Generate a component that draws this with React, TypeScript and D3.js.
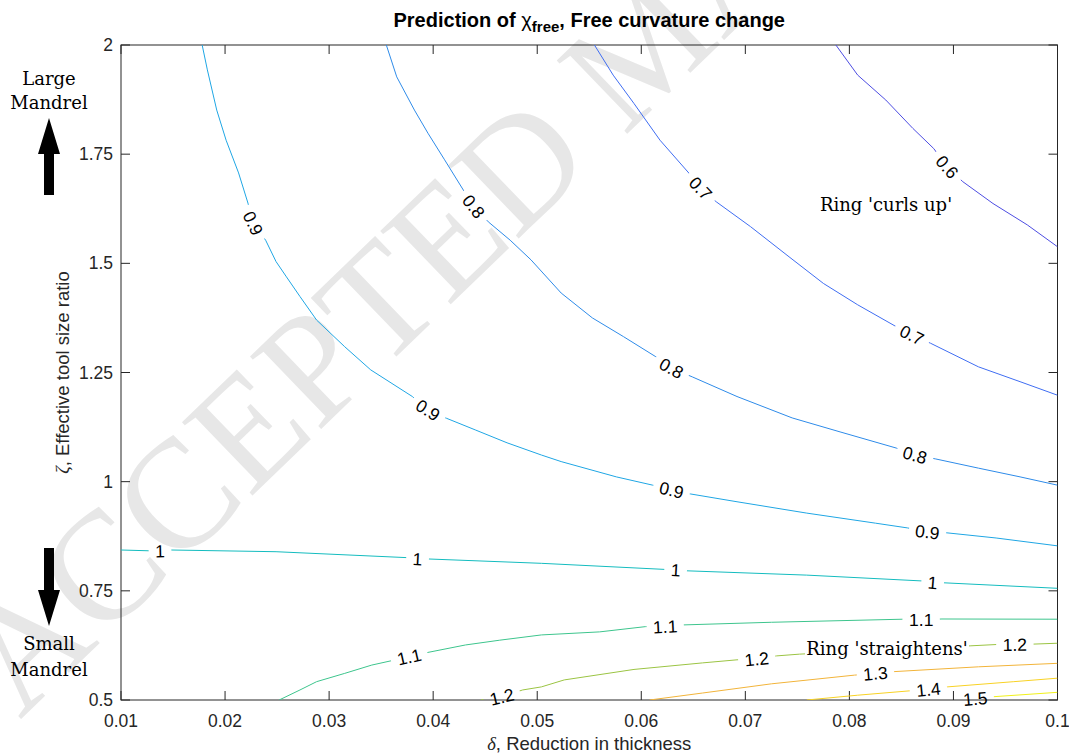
import React from 'react';
import * as d3 from 'd3';

type Pt = [number, number];

// Axis ticks
const xTicks = [0.01, 0.02, 0.03, 0.04, 0.05, 0.06, 0.07, 0.08, 0.09, 0.1];
const xTickLabels = ['0.01', '0.02', '0.03', '0.04', '0.05', '0.06', '0.07', '0.08', '0.09', '0.1'];
const yTicks = [0.5, 0.75, 1, 1.25, 1.5, 1.75, 2];
const yTickLabels = ['0.5', '0.75', '1', '1.25', '1.5', '1.75', '2'];

// Contour levels of chi_free and their line colours
const levels = [0.6, 0.7, 0.8, 0.9, 1.0, 1.1, 1.2, 1.3, 1.4, 1.5];
const levelColors = ['#4d4de2', '#3f6df2', '#2e8be9', '#1fa6e4', '#14bcbf', '#3dc58d', '#9bc443', '#f2b43a', '#f8d224', '#f1f11a'];

// Contour polylines, points as [delta, zeta]
const line06: Pt[] = [[0.0787, 2], [0.0808, 1.931], [0.0835, 1.874], [0.0861, 1.809], [0.0881, 1.763], [0.0894, 1.721], [0.0909, 1.687], [0.0938, 1.637], [0.0971, 1.588], [0.1, 1.538]];
const line07: Pt[] = [[0.0555, 2], [0.0573, 1.931], [0.0593, 1.866], [0.0618, 1.782], [0.0646, 1.706], [0.0657, 1.672], [0.0672, 1.641], [0.0705, 1.584], [0.0742, 1.515], [0.0775, 1.454], [0.0808, 1.405], [0.0845, 1.355], [0.086, 1.336], [0.0878, 1.317], [0.0924, 1.263], [0.0964, 1.229], [0.1, 1.198]];
const line08: Pt[] = [[0.0355, 2], [0.0365, 1.927], [0.0382, 1.851], [0.0395, 1.798], [0.0411, 1.737], [0.043, 1.664], [0.0439, 1.63], [0.0453, 1.595], [0.0474, 1.553], [0.0494, 1.508], [0.0523, 1.432], [0.0553, 1.375], [0.0583, 1.332], [0.0614, 1.286], [0.0629, 1.26], [0.0649, 1.24], [0.0692, 1.195], [0.0745, 1.146], [0.0791, 1.114], [0.0845, 1.077], [0.0863, 1.061], [0.0883, 1.052], [0.0924, 1.031], [0.0964, 1.011], [0.1, 0.992]];
const line09: Pt[] = [[0.0178, 2], [0.0183, 1.943], [0.0192, 1.851], [0.0201, 1.782], [0.0213, 1.707], [0.0222, 1.638], [0.0227, 1.592], [0.0239, 1.553], [0.0249, 1.504], [0.0259, 1.469], [0.0272, 1.424], [0.0288, 1.37], [0.0315, 1.309], [0.034, 1.256], [0.038, 1.195], [0.0395, 1.164], [0.0413, 1.145], [0.0441, 1.118], [0.0471, 1.089], [0.0504, 1.061], [0.0523, 1.046], [0.0576, 1.011], [0.0611, 0.992], [0.0629, 0.981], [0.0647, 0.972], [0.0692, 0.954], [0.0759, 0.928], [0.0825, 0.905], [0.0856, 0.894], [0.0875, 0.885], [0.0893, 0.883], [0.0941, 0.871], [0.1, 0.853]];
const line10: Pt[] = [[0.01, 0.8435], [0.01375, 0.841], [0.0148, 0.8435], [0.0249, 0.8396], [0.0375, 0.826], [0.0385, 0.823], [0.0395, 0.823], [0.0504, 0.813], [0.0623, 0.799], [0.0633, 0.798], [0.0642, 0.796], [0.0759, 0.786], [0.0871, 0.7725], [0.088, 0.769], [0.0889, 0.7686], [0.1, 0.7558]];
const line11: Pt[] = [[0.0252, 0.5], [0.0272, 0.523], [0.0288, 0.542], [0.0315, 0.561], [0.0341, 0.58], [0.036, 0.59], [0.0377, 0.599], [0.0395, 0.609], [0.0431, 0.626], [0.0464, 0.637], [0.0504, 0.649], [0.056, 0.656], [0.0604, 0.668], [0.0623, 0.668], [0.0641, 0.672], [0.0725, 0.678], [0.0851, 0.685], [0.0869, 0.684], [0.0889, 0.6855], [0.1, 0.685]];
const line12: Pt[] = [[0.0446, 0.5], [0.0466, 0.5076], [0.0486, 0.523], [0.0504, 0.53], [0.0526, 0.546], [0.0593, 0.57], [0.0659, 0.585], [0.0692, 0.592], [0.0711, 0.594], [0.073, 0.601], [0.0752, 0.605], [0.0916, 0.624], [0.0941, 0.627], [0.0959, 0.627], [0.0977, 0.628], [0.1, 0.63]];
const line13: Pt[] = [[0.0608, 0.5], [0.0659, 0.516], [0.0725, 0.537], [0.0805, 0.557], [0.0825, 0.561], [0.0843, 0.565], [0.0924, 0.576], [0.1, 0.584]];
const line14: Pt[] = [[0.0759, 0.5], [0.0808, 0.511], [0.0858, 0.521], [0.0876, 0.524], [0.0894, 0.53], [0.0958, 0.542], [0.1, 0.55]];
const line15: Pt[] = [[0.0904, 0.5], [0.0921, 0.503], [0.0939, 0.5076], [0.1, 0.5176]];

// Where each contour carries its inline value label
const labels06: Pt[] = [[0.0894, 1.721]];
const labels07: Pt[] = [[0.0657, 1.672], [0.086, 1.336]];
const labels08: Pt[] = [[0.0439, 1.63], [0.0629, 1.26], [0.0863, 1.061]];
const labels09: Pt[] = [[0.0227, 1.592], [0.0395, 1.164], [0.0629, 0.981], [0.0875, 0.885]];
const labels10: Pt[] = [[0.01375, 0.841], [0.0385, 0.823], [0.0633, 0.798], [0.088, 0.769]];
const labels11: Pt[] = [[0.0377, 0.599], [0.0623, 0.668], [0.0869, 0.684]];
const labels12: Pt[] = [[0.0466, 0.5076], [0.0711, 0.594], [0.0959, 0.627]];
const labels13: Pt[] = [[0.0825, 0.561]];
const labels14: Pt[] = [[0.0876, 0.524]];
const labels15: Pt[] = [[0.0921, 0.503]];

const contourLines = [line06, line07, line08, line09, line10, line11, line12, line13, line14, line15];
const contourLabels = [labels06, labels07, labels08, labels09, labels10, labels11, labels12, labels13, labels14, labels15];

const W = 1069;
const H = 756;
const plot = { left: 121, right: 1057.5, top: 45, bottom: 700 };

const x = d3.scaleLinear().domain([0.01, 0.1]).range([plot.left, plot.right]);
const y = d3.scaleLinear().domain([0.5, 2]).range([plot.bottom, plot.top]);

const lineGen = d3.line<Pt>().x((d) => x(d[0])).y((d) => y(d[1]));

const sans = "Arial, 'Liberation Sans', Helvetica, sans-serif";
const serif = "'DejaVu Serif', Cambria, serif";
const labelFont = 17.5;
const tickFont = 17.5;
const axisColor = '#262626';

function textWidth(s: string, fs: number) {
  let w = 0;
  for (const c of s) w += c === '.' ? 0.278 : 0.556;
  return w * fs;
}

// Angle (deg) of the polyline tangent near a pixel position
function tangentAngle(px: Pt[], p: Pt) {
  const cum: number[] = [0];
  for (let i = 1; i < px.length; i++) {
    cum.push(cum[i - 1] + Math.hypot(px[i][0] - px[i - 1][0], px[i][1] - px[i - 1][1]));
  }
  let best = Infinity;
  let s0 = 0;
  for (let i = 1; i < px.length; i++) {
    const [ax, ay] = px[i - 1];
    const [bx, by] = px[i];
    const dx = bx - ax, dy = by - ay;
    const L2 = dx * dx + dy * dy || 1;
    let t = ((p[0] - ax) * dx + (p[1] - ay) * dy) / L2;
    t = Math.max(0, Math.min(1, t));
    const qx = ax + t * dx, qy = ay + t * dy;
    const d = Math.hypot(p[0] - qx, p[1] - qy);
    if (d < best) {
      best = d;
      s0 = cum[i - 1] + t * Math.sqrt(L2);
    }
  }
  const at = (s: number): Pt => {
    s = Math.max(0, Math.min(cum[cum.length - 1], s));
    for (let i = 1; i < px.length; i++) {
      if (s <= cum[i]) {
        const seg = cum[i] - cum[i - 1] || 1;
        const t = (s - cum[i - 1]) / seg;
        return [px[i - 1][0] + t * (px[i][0] - px[i - 1][0]), px[i - 1][1] + t * (px[i][1] - px[i - 1][1])];
      }
    }
    return px[px.length - 1];
  };
  const a = at(s0 - 14);
  const b = at(s0 + 14);
  let ang = (Math.atan2(b[1] - a[1], b[0] - a[0]) * 180) / Math.PI;
  if (ang > 90) ang -= 180;
  if (ang < -90) ang += 180;
  return ang;
}

export default function App() {
  const contours = levels.map((lv, i) => {
    const pts = contourLines[i];
    const px: Pt[] = pts.map((d) => [x(d[0]), y(d[1])]);
    const text = String(lv);
    const labs = contourLabels[i].map((l) => {
      const p: Pt = [x(l[0]), y(l[1])];
      return { p, angle: tangentAngle(px, p) };
    });
    return { lv, text, color: levelColors[i], d: lineGen(pts) || '', labs };
  });

  const straightX = 805;
  const straightW = 164;
  const wmX = 20;
  const wmY = 720;

  return (
    <svg width={W} height={H} style={{ position: 'absolute', left: 0, top: 0, background: '#fff' }}>
      <defs>
        <clipPath id="plotClip">
          <rect x={plot.left} y={plot.top} width={plot.right - plot.left} height={plot.bottom - plot.top} />
        </clipPath>
        <mask id="labelGaps" maskUnits="userSpaceOnUse" x={0} y={0} width={W} height={H}>
          <rect x={0} y={0} width={W} height={H} fill="#fff" />
          {contours.map((c) =>
            c.labs.map((l, j) => {
              const gw = textWidth(c.text, labelFont) + 13;
              return (
                <rect
                  key={`${c.lv}-${j}`}
                  x={-gw / 2}
                  y={-9}
                  width={gw}
                  height={18}
                  fill="#000"
                  transform={`translate(${l.p[0]},${l.p[1]}) rotate(${l.angle})`}
                />
              );
            })
          )}
        </mask>
      </defs>

      <rect x={0} y={0} width={W} height={H} fill="#fff" />

      {/* watermark */}
      <text
        x={wmX}
        y={wmY}
        transform={`rotate(-44,${wmX},${wmY})`}
        fontFamily="'Liberation Serif', 'Times New Roman', serif"
        fontSize={155}
        fill="#e7e7e7"
      >
        ACCEPTED MANUSCRIPT
      </text>

      {/* axes box */}
      <rect
        x={plot.left}
        y={plot.top}
        width={plot.right - plot.left}
        height={plot.bottom - plot.top}
        fill="none"
        stroke={axisColor}
        strokeWidth={1}
      />
      {xTicks.map((t) => (
        <g key={`xt${t}`} stroke={axisColor} strokeWidth={1}>
          <line x1={x(t)} x2={x(t)} y1={plot.bottom} y2={plot.bottom - 9} />
          <line x1={x(t)} x2={x(t)} y1={plot.top} y2={plot.top + 9} />
        </g>
      ))}
      {yTicks.map((t) => (
        <g key={`yt${t}`} stroke={axisColor} strokeWidth={1}>
          <line x1={plot.left} x2={plot.left + 9} y1={y(t)} y2={y(t)} />
          <line x1={plot.right} x2={plot.right - 9} y1={y(t)} y2={y(t)} />
        </g>
      ))}
      {xTicks.map((t, i) => (
        <text key={`xl${t}`} x={x(t)} y={727} textAnchor="middle" fontFamily={sans} fontSize={tickFont} fill={axisColor}>
          {xTickLabels[i]}
        </text>
      ))}
      {yTicks.map((t, i) => (
        <text key={`yl${t}`} x={113} y={y(t) + 6} textAnchor="end" fontFamily={sans} fontSize={tickFont} fill={axisColor}>
          {yTickLabels[i]}
        </text>
      ))}

      {/* contour lines */}
      <g clipPath="url(#plotClip)">
        <g mask="url(#labelGaps)">
          {contours.map((c) => (
            <path key={`c${c.lv}`} d={c.d} fill="none" stroke={c.color} strokeWidth={1} />
          ))}
        </g>
      </g>
      {contours.map((c) =>
        c.labs.map((l, j) => (
          <text
            key={`t${c.lv}-${j}`}
            transform={`translate(${l.p[0]},${l.p[1]}) rotate(${l.angle})`}
            textAnchor="middle"
            dy="0.36em"
            fontFamily={sans}
            fontSize={labelFont}
            fill="#000"
          >
            {c.text}
          </text>
        ))
      )}

      {/* annotations */}
      <text x={886} y={211} textAnchor="middle" fontFamily={serif} fontSize={18} fill="#000">
        Ring 'curls up'
      </text>
      <rect x={straightX} y={638} width={straightW} height={22} fill="#fff" />
      <text x={straightX + straightW / 2} y={655} textAnchor="middle" fontFamily={serif} fontSize={18} fill="#000">
        Ring 'straightens'
      </text>

      <text x={49} y={85} textAnchor="middle" fontFamily={serif} fontSize={18} fill="#000">Large</text>
      <text x={49} y={109} textAnchor="middle" fontFamily={serif} fontSize={18} fill="#000">Mandrel</text>
      <path d="M49,118 L60,154 L54,154 L54,195 L44,195 L44,154 L38,154 Z" fill="#000" />

      <path d="M44,548 L54,548 L54,590 L60,590 L49,626 L38,590 L44,590 Z" fill="#000" />
      <text x={49} y={650} textAnchor="middle" fontFamily={serif} fontSize={18} fill="#000">Small</text>
      <text x={49} y={676} textAnchor="middle" fontFamily={serif} fontSize={18} fill="#000">Mandrel</text>

      {/* title */}
      <text x={(plot.left + plot.right) / 2} y={27} textAnchor="middle" fontFamily={sans} fontSize={20} fontWeight="bold" fill="#000">
        Prediction of{' '}
        <tspan fontWeight="normal">χ</tspan>
        <tspan fontSize={15} dy={5}>free</tspan>
        <tspan dy={-5}>, Free curvature change</tspan>
      </text>

      {/* axis labels */}
      <text x={(plot.left + plot.right) / 2} y={750} textAnchor="middle" fontFamily={sans} fontSize={18.5} fill={axisColor}>
        <tspan fontFamily="'Liberation Serif', serif" fontStyle="italic">δ</tspan>, Reduction in thickness
      </text>
      <text
        transform={`translate(69,${(plot.top + plot.bottom) / 2}) rotate(-90)`}
        textAnchor="middle"
        fontFamily={sans}
        fontSize={18.5}
        fill={axisColor}
      >
        <tspan fontFamily="'Liberation Serif', serif" fontStyle="italic">ζ</tspan>, Effective tool size ratio
      </text>
    </svg>
  );
}
